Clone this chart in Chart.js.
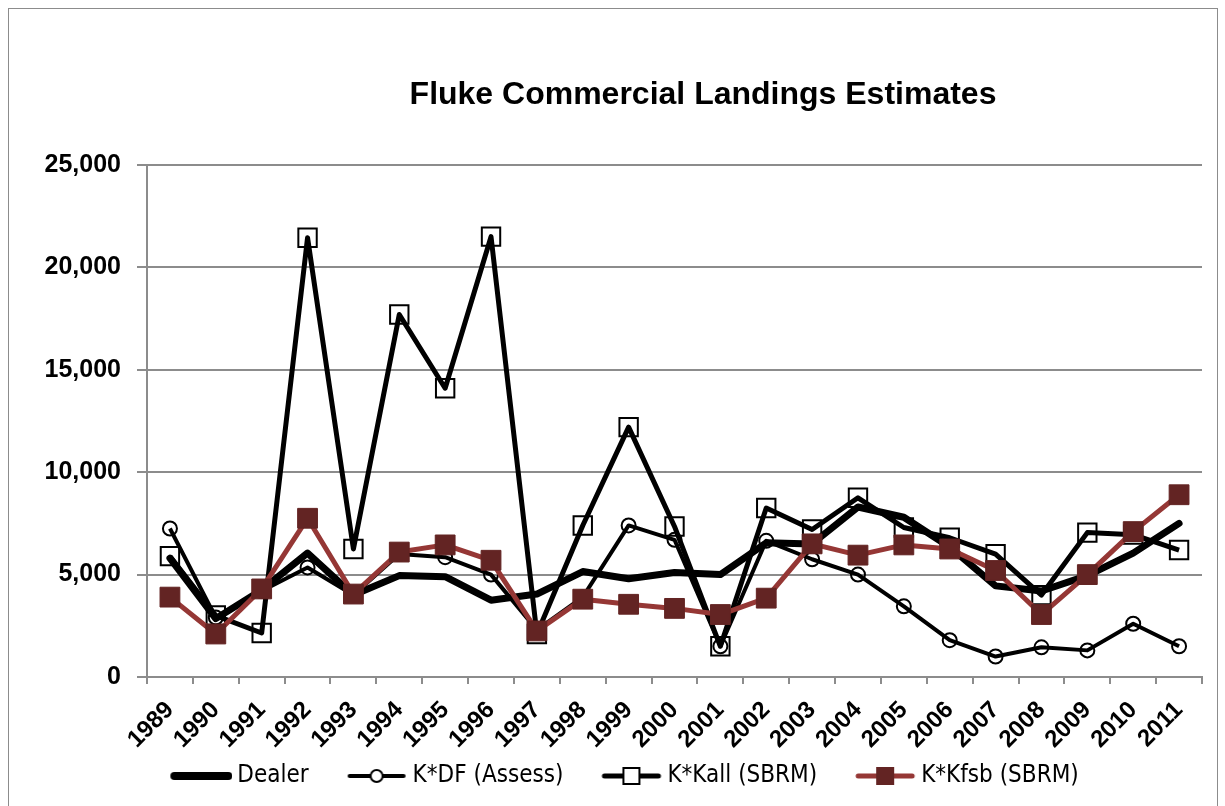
<!DOCTYPE html>
<html>
<head>
<meta charset="utf-8">
<title>Fluke Commercial Landings Estimates</title>
<script src="https://cdn.jsdelivr.net/npm/chart.js@4.4.1/dist/chart.umd.min.js"></script>
<style>
  html, body { margin: 0; padding: 0; background: #fff; }
  #wrap { position: relative; width: 1225px; height: 806px; overflow: hidden; }
  #frame { position: absolute; left: 8px; top: 8px; width: 1208px; height: 830px; border: 1px solid #8c8c8c; }
  #title { position: absolute; left: 0; top: 77px; width: 1406px; text-align: center;
           font: bold 32px "Liberation Sans", Arial, sans-serif; line-height: 32px; color: #000; }
  canvas { position: absolute; left: 0; top: 0; }
</style>
</head>
<body>
<div id="wrap">
  <div id="frame"></div>
  <canvas id="flukeChart" width="1225" height="806"></canvas>
  <div id="title">Fluke Commercial Landings Estimates</div>
</div>
<script>
// values (pounds)
const years = ['1989','1990','1991','1992','1993','1994','1995','1996','1997','1998','1999','2000',
               '2001','2002','2003','2004','2005','2006','2007','2008','2009','2010','2011'];
const dealer = [5800, 2850, 4250, 6050, 4000, 4950, 4900, 3750, 4050, 5150, 4800, 5100,
                5000, 6550, 6500, 8300, 7800, 6350, 4450, 4200, 4950, 6050, 7500];
const kDF    = [7250, 2900, 4200, 5350, 4000, 6000, 5850, 5000, 2300, 3900, 7400, 6700,
                1500, 6650, 5750, 5000, 3450, 1800, 1000, 1450, 1300, 2600, 1500];
const kKall  = [5900, 3000, 2150, 21450, 6250, 17700, 14100, 21500, 2100, 7400, 12200, 7350,
                1500, 8250, 7200, 8750, 7300, 6800, 6000, 4000, 7050, 6950, 6200];
const kKfsb  = [3900, 2100, 4300, 7750, 4050, 6100, 6450, 5700, 2250, 3800, 3550, 3350,
                3050, 3850, 6500, 5950, 6450, 6250, 5200, 3050, 5000, 7100, 8900];
const yMax = 25000;
const yStep = 5000;

const seriesNames = ['Dealer', 'K*DF (Assess)', 'K*Kall (SBRM)', 'K*Kfsb (SBRM)'];
const red = '#953735';
const darkRed = '#632423';

// little line+marker pictures for the legend
function legendIcon(lineColor, lineW, marker) {
  const c = document.createElement('canvas');
  c.width = 96; c.height = 28;
  const g = c.getContext('2d');
  g.strokeStyle = lineColor;
  g.lineWidth = lineW;
  g.lineCap = 'round';
  g.beginPath(); g.moveTo(38, 14); g.lineTo(92, 14); g.stroke();
  const cx = 65;
  if (marker === 'circle') {
    g.fillStyle = '#fff';
    g.beginPath(); g.arc(cx, 14, 6, 0, Math.PI * 2); g.fill();
    g.lineWidth = 2; g.strokeStyle = '#000'; g.stroke();
  } else if (marker === 'square') {
    g.fillStyle = '#fff';
    g.fillRect(cx - 8, 6, 16, 16);
    g.lineWidth = 2; g.strokeStyle = '#000'; g.strokeRect(cx - 8, 6, 16, 16);
  } else if (marker === 'filled') {
    g.fillStyle = darkRed;
    g.fillRect(cx - 9, 5, 18, 18);
  }
  return c;
}
const icons = [
  legendIcon('#000', 8, null),
  legendIcon('#000', 4, 'circle'),
  legendIcon('#000', 5, 'square'),
  legendIcon(red, 5, 'filled')
];

const ctx = document.getElementById('flukeChart').getContext('2d');
const flukeChart = new Chart(ctx, {
  type: 'line',
  data: {
    labels: years,
    datasets: [{
      label: seriesNames[0],
      data: dealer,
      borderColor: '#000',
      borderWidth: 7,
      pointRadius: 0,
      borderJoinStyle: 'round',
      borderCapStyle: 'round',
      order: 4
    },
    {
      label: seriesNames[1],
      data: kDF,
      borderColor: '#000',
      borderWidth: 4,
      borderJoinStyle: 'round',
      pointStyle: 'circle',
      pointRadius: 7,
      pointBackgroundColor: 'rgba(0,0,0,0)',
      pointBorderColor: '#000',
      pointBorderWidth: 2,
      order: 3
    },
    {
      label: seriesNames[2],
      data: kKall,
      borderColor: '#000',
      borderWidth: 5,
      borderJoinStyle: 'round',
      pointStyle: 'rect',
      pointRadius: 13,
      pointBackgroundColor: 'rgba(0,0,0,0)',
      pointBorderColor: '#000',
      pointBorderWidth: 2,
      order: 2
    },
    {
      label: seriesNames[3],
      data: kKfsb,
      borderColor: red,
      borderWidth: 5,
      borderJoinStyle: 'round',
      pointStyle: 'rect',
      pointRadius: 14,
      pointBackgroundColor: darkRed,
      pointBorderColor: darkRed,
      pointBorderWidth: 1,
      order: 1
    }]
  },
  options: {
    responsive: false,
    animation: false,
    events: [],
    layout: { padding: { top: 165, left: 20, right: 23, bottom: 8 } },
    plugins: {
      title: { display: false },
      tooltip: { enabled: false },
      legend: {
        position: 'bottom',
        labels: {
          usePointStyle: true,
          pointStyleWidth: 82,
          padding: 10,
          color: '#000',
          font: { family: '"Liberation Sans Narrow", "DejaVu Sans Condensed", sans-serif', size: 24 },
          generateLabels: () => seriesNames.map((name, i) => ({
            text: name,
            pointStyle: icons[i],
            fillStyle: 'transparent',
            strokeStyle: 'transparent',
            lineWidth: 0,
            datasetIndex: i,
            hidden: false
          }))
        }
      }
    },
    scales: {
      x: {
        offset: true,
        afterFit: s => { s.height = 77; },
        grid: { offset: true, drawOnChartArea: false, tickLength: 7, color: '#8c8c8c', lineWidth: 2 },
        border: { color: '#8c8c8c', width: 2 },
        ticks: {
          autoSkip: false, minRotation: 45, maxRotation: 45, padding: 12, color: '#000',
          font: { family: '"Liberation Sans", Arial, sans-serif', size: 24, weight: 'bold' }
        }
      },
      y: {
        min: 0,
        max: yMax,
        afterFit: s => { s.width = 127; },
        grid: { color: '#8c8c8c', lineWidth: 2, tickLength: 10 },
        border: { color: '#8c8c8c', width: 2 },
        ticks: {
          stepSize: yStep, padding: 16, color: '#000',
          font: { family: '"Liberation Sans", Arial, sans-serif', size: 25, weight: 'bold' },
          callback: v => v.toLocaleString('en-US')
        }
      }
    }
  }
});
</script>
</body>
</html>
